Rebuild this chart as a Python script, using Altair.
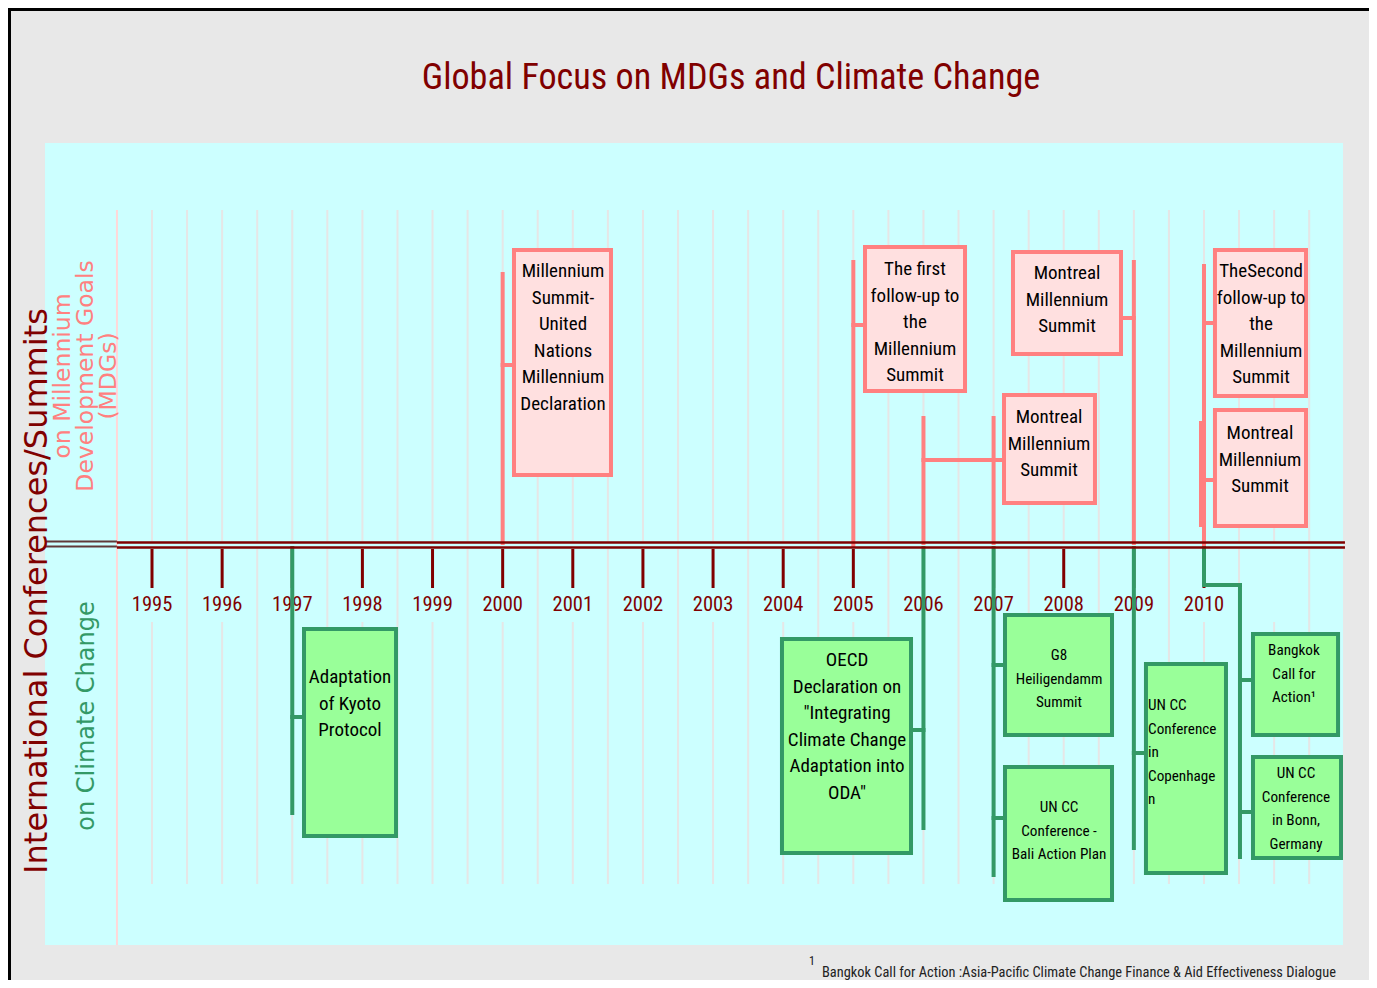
import altair as alt
import pandas as pd

# ---------------- data ----------------
TITLE = "Global Focus on MDGs and Climate Change"
YEARS = list(range(1995, 2011))
GRID_YEARS = [1995 + 0.5 * i for i in range(34)]

# MDG (summits) boxes
mdg_text = [
    "Millennium\nSummit-\nUnited\nNations\nMillennium\nDeclaration",
    "The first\nfollow-up to\nthe\nMillennium\nSummit",
    "Montreal\nMillennium\nSummit",
    "Montreal\nMillennium\nSummit",
    "TheSecond\nfollow-up to\nthe\nMillennium\nSummit",
    "Montreal\nMillennium\nSummit",
]
mdg_x0 = [2000.133, 2005.138, 2007.120, 2007.248, 2010.128, 2010.128]
mdg_x1 = [2001.573, 2006.621, 2008.474, 2008.845, 2011.483, 2011.483]
mdg_top = [297, 300, 152, 295, 297, 137]
mdg_bot = [68, 152, 40, 189, 147, 17]
mdg_tx = [2000.86, 2005.879, 2007.79, 2008.047, 2010.813, 2010.798]
mdg_ty = [274, 276, 128, 272, 274, 112]   # first text line

# Climate change boxes
cc_text = [
    "Adaptation\nof Kyoto\nProtocol",
    "OECD\nDeclaration on\n\"Integrating\nClimate Change\nAdaptation into\nODA\"",
    "G8\nHeiligendamm\nSummit",
    "UN CC\nConference -\nBali Action Plan",
    "UN CC\nConference\nin\nCopenhage\nn",
    "Bangkok\nCall for\nAction\u00b9",
    "UN CC\nConference\nin Bonn,\nGermany",
]
cc_x0 = [1997.139, 2003.954, 2007.134, 2007.134, 2009.144, 2010.670, 2010.670]
cc_x1 = [1998.508, 2005.851, 2008.717, 2008.717, 2010.342, 2011.940, 2011.982]
cc_top = [-82, -92, -68, -220, -117, -87, -210]
cc_bot = [-293, -310, -192, -357, -330, -192, -315]
cc_tx = [1997.823, 2004.91, 2007.933, 2007.933, 2009.202, 2011.283, 2011.312]
cc_ty = [-132, -115, -110, -262, -160, -105, -228]   # first text line
cc_size = [20, 20, 16, 16, 16, 16, 16]

# connector segments (x, x2, y, y2)
pink_seg = [
    (2000, 2000, 271, 2), (2000, 2000.133, 180, 180),
    (2005, 2005, 283, 0), (2005, 2005.138, 220, 220),
    (2006, 2006, 127, 2), (2006, 2007.12, 85, 85),
    (2007, 2007, 127, 2),
    (2009, 2009, 283, 2), (2008.845, 2009, 227, 227),
    (2010, 2010, 279, 0), (2010, 2010.128, 222, 222),
    (2009.957, 2009.957, 122, 20), (2009.957, 2010.128, 65, 65),
]
green_seg = [
    (1997, 1997, -3, -268), (1997, 1997.139, -172, -172),
    (2006, 2006, -3, -283), (2005.851, 2006, -185, -185),
    (2007, 2007, -3, -330), (2007, 2007.134, -120, -120), (2007, 2007.134, -273, -273),
    (2009, 2009, -3, -303), (2009, 2009.144, -208, -208),
    (2010, 2010, -3, -40), (2010, 2010.513, -40, -40), (2010.513, 2010.513, -40, -312),
    (2010.513, 2010.67, -135, -135), (2010.513, 2010.67, -267, -267),
]

FOOTNOTE = "Bangkok Call for Action :Asia-Pacific Climate Change Finance & Aid Effectiveness Dialogue"

# ---------------- layout / style ----------------
W, H = 1358, 969
PXY = 70.133
X0 = 1995 - (152 - 11) / PXY
XS = alt.Scale(domain=[X0, X0 + W / PXY], nice=False, zero=False)
YS = alt.Scale(domain=[-435, 534], nice=False, zero=False)
NARROW = "Roboto Condensed, Liberation Sans Narrow, Liberation Sans, sans-serif"
WIDE = "DejaVu Sans, Verdana, sans-serif"
DARKRED = "#800000"
PINK_LINE = "#FF8080"
PINK_FILL = "#FFE0E0"
GREEN_LINE = "#339966"
GREEN_FILL = "#99FF99"
INS = 2 / PXY  # half stroke inset


def X(f="x"):
    return alt.X(f"{f}:Q", scale=XS, axis=None)


def Y(f="y"):
    return alt.Y(f"{f}:Q", scale=YS, axis=None)


panel = alt.Chart(pd.DataFrame({"x": [1993.474], "x2": [2011.982], "y": [402], "y2": [-400]})).mark_rect(
    fill="#CCFFFF").encode(x=X(), x2="x2", y=Y(), y2="y2")

half = [g for g in GRID_YEARS if g % 1]
full = [g for g in GRID_YEARS if not g % 1]
grid_df = pd.DataFrame(
    [{"x": g, "y": 335, "y2": 4} for g in GRID_YEARS]
    + [{"x": g, "y": -4, "y2": -339} for g in half]
    + [{"x": g, "y": -77, "y2": -339} for g in full]
)
grid = alt.Chart(grid_df).mark_rule(color="#E6E6E6", strokeWidth=2).encode(x=X(), y=Y(), y2="y2")

sep = alt.Chart(pd.DataFrame({"x": [1994.5], "y": [335], "y2": [-400]})).mark_rule(
    color="#FFD8D8", strokeWidth=2).encode(x=X(), y=Y(), y2="y2")

ticks = alt.Chart(pd.DataFrame({"x": YEARS, "y": [-4] * len(YEARS), "y2": [-43] * len(YEARS)})).mark_rule(
    color=DARKRED, strokeWidth=3).encode(x=X(), y=Y(), y2="y2")

year_lbl = alt.Chart(pd.DataFrame({"x": YEARS, "y": [-60] * len(YEARS), "t": [str(y) for y in YEARS]})).mark_text(
    font=NARROW, fontSize=20.5, color=DARKRED, align="center", baseline="middle").encode(x=X(), y=Y(), text="t:N")


def seg_df(segs):
    return pd.DataFrame(segs, columns=["x", "x2", "y", "y2"])


pink = alt.Chart(seg_df(pink_seg)).mark_rule(color=PINK_LINE, strokeWidth=4, strokeCap="square").encode(
    x=X(), x2="x2", y=Y(), y2="y2")
green = alt.Chart(seg_df(green_seg)).mark_rule(color=GREEN_LINE, strokeWidth=4, strokeCap="square").encode(
    x=X(), x2="x2", y=Y(), y2="y2")

tl_df = pd.DataFrame({"x": [1994.5, 1994.5], "x2": [2012.01, 2012.01], "y": [2.5, -2.5]})
timeline = alt.Chart(tl_df).mark_rule(color=DARKRED, strokeWidth=2.5).encode(x=X(), x2="x2", y=Y())
tl_left = alt.Chart(pd.DataFrame({"x": [1993.474, 1993.474], "x2": [1994.5, 1994.5], "y": [3.5, -1.5]})).mark_rule(
    color="#603838", strokeWidth=2).encode(x=X(), x2="x2", y=Y())

mdg_df = pd.DataFrame({"x": [v + INS for v in mdg_x0], "x2": [v - INS for v in mdg_x1],
                       "y": [v - 2 for v in mdg_top], "y2": [v + 2 for v in mdg_bot]})
mdg_box = alt.Chart(mdg_df).mark_rect(fill=PINK_FILL, stroke=PINK_LINE, strokeWidth=4).encode(
    x=X(), x2="x2", y=Y(), y2="y2")
cc_df = pd.DataFrame({"x": [v + INS for v in cc_x0], "x2": [v - INS for v in cc_x1],
                      "y": [v - 2 for v in cc_top], "y2": [v + 2 for v in cc_bot]})
cc_box = alt.Chart(cc_df).mark_rect(fill=GREEN_FILL, stroke=GREEN_LINE, strokeWidth=4).encode(
    x=X(), x2="x2", y=Y(), y2="y2")

mdg_txt = alt.Chart(pd.DataFrame({"x": mdg_tx, "y": mdg_ty, "t": mdg_text})).mark_text(
    font=NARROW, fontSize=19, lineHeight=26.6, lineBreak="\n", color="#000", align="center",
    baseline="middle").encode(x=X(), y=Y(), text="t:N")

cc_df_t = pd.DataFrame({"x": cc_tx, "y": cc_ty, "t": cc_text, "s": cc_size})
big = cc_df_t[cc_df_t.s == 20]
small_c = cc_df_t[(cc_df_t.s == 16) & (cc_df_t.index != 4)]
left_c = cc_df_t[cc_df_t.index == 4]
cc_txt_big = alt.Chart(big).mark_text(
    font=NARROW, fontSize=19, lineHeight=26.6, lineBreak="\n", color="#000", align="center",
    baseline="middle").encode(x=X(), y=Y(), text="t:N")
cc_txt_small = alt.Chart(small_c).mark_text(
    font=NARROW, fontSize=15.2, lineHeight=23.6, lineBreak="\n", color="#000", align="center",
    baseline="middle").encode(x=X(), y=Y(), text="t:N")
cc_txt_left = alt.Chart(left_c).mark_text(
    font=NARROW, fontSize=15.2, lineHeight=23.5, lineBreak="\n", color="#000", align="left",
    baseline="middle").encode(x=X(), y=Y(), text="t:N")

title = alt.Chart(pd.DataFrame({"x": [2003.256], "y": [467], "t": [TITLE]})).mark_text(
    font=NARROW, fontSize=36.2, color=DARKRED, align="center", baseline="middle").encode(x=X(), y=Y(), text="t:N")

side_main = alt.Chart(pd.DataFrame({"x": [1993.36], "y": [-46], "t": ["International Conferences/Summits"]})).mark_text(
    font=WIDE, fontSize=32, color=DARKRED, angle=270, align="center", baseline="middle").encode(
    x=X(), y=Y(), text="t:N")
side_mdg = alt.Chart(pd.DataFrame({"x": [1993.731], "y": [169],
                                   "t": ["on Millennium\nDevelopment Goals\n(MDGs)"]})).mark_text(
    font=WIDE, fontSize=23.5, lineHeight=23, lineBreak="\n", color=PINK_LINE, angle=270, align="center",
    baseline="middle").encode(x=X(), y=Y(), text="t:N")
side_cc = alt.Chart(pd.DataFrame({"x": [1994.073], "y": [-171], "t": ["on Climate Change"]})).mark_text(
    font=WIDE, fontSize=24, color=GREEN_LINE, angle=270, align="center", baseline="middle").encode(
    x=X(), y=Y(), text="t:N")

foot_sup = alt.Chart(pd.DataFrame({"x": [2004.411], "y": [-416], "t": ["1"]})).mark_text(
    font=NARROW, fontSize=12, color="#222", align="center", baseline="middle").encode(x=X(), y=Y(), text="t:N")
foot = alt.Chart(pd.DataFrame({"x": [2004.553], "y": [-428], "t": [FOOTNOTE]})).mark_text(
    font=NARROW, fontSize=14.4, color="#222", align="left", baseline="middle").encode(x=X(), y=Y(), text="t:N")

chart = alt.layer(
    panel, grid, sep, ticks, year_lbl, pink, green, tl_left, timeline, mdg_box, cc_box,
    mdg_txt, cc_txt_big, cc_txt_small, cc_txt_left, title, side_main, side_mdg, side_cc, foot_sup, foot,
).properties(
    width=W, height=H,
    autosize=alt.AutoSizeParams(type="none"),
    padding={"left": 3, "top": 3, "right": 0, "bottom": 0},
    background="#000000",
).configure_view(fill="#E8E8E8", strokeWidth=0)

chart.save("out.html", embed_options={"renderer": "svg", "actions": False})
